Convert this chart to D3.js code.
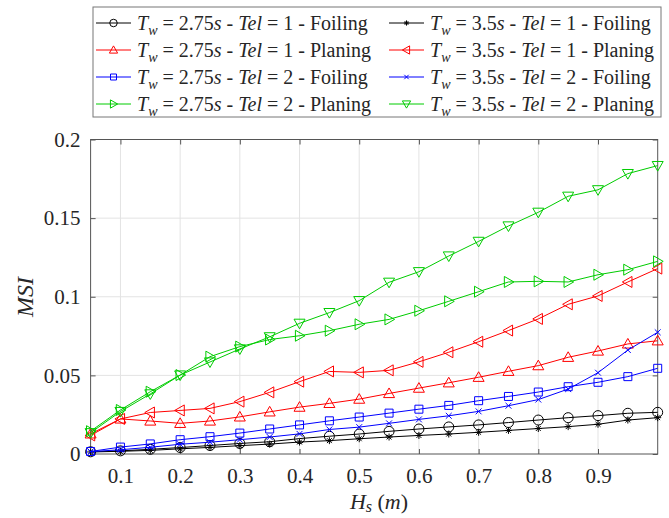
<!DOCTYPE html>
<html><head><meta charset="utf-8">
<script src="https://cdn.jsdelivr.net/npm/d3@7"></script>
<style>body{margin:0;background:#fff}svg{display:block}</style>
</head><body>
<svg id="chart" width="669" height="518"></svg>
<script>
const hs = [0.05,0.1,0.15,0.2,0.25,0.3,0.35,0.4,0.45,0.5,0.55,0.6,0.65,0.7,0.75,0.8,0.85,0.9,0.95,1.0];
const foil275tel1 = [0.0014,0.0020,0.0030,0.0041,0.0054,0.0067,0.0078,0.0098,0.0113,0.0127,0.0144,0.0159,0.0172,0.0185,0.0200,0.0216,0.0231,0.0244,0.0259,0.0265];
const foil35tel1  = [0.0013,0.0017,0.0023,0.0033,0.0042,0.0053,0.0063,0.0076,0.0085,0.0097,0.0108,0.0118,0.0127,0.0138,0.0150,0.0162,0.0174,0.0189,0.0216,0.0231];
const plan275tel1 = [0.0128,0.0223,0.0210,0.0195,0.0210,0.0236,0.0268,0.0298,0.0322,0.0349,0.0385,0.0419,0.0453,0.0488,0.0526,0.0562,0.0615,0.0655,0.0700,0.0720];
const plan35tel1  = [0.0118,0.0223,0.0264,0.0277,0.0290,0.0333,0.0392,0.0460,0.0525,0.0519,0.0532,0.0586,0.0647,0.0714,0.0785,0.0859,0.0952,0.1005,0.1094,0.1179];
const foil275tel2 = [0.0016,0.0044,0.0064,0.0091,0.0110,0.0133,0.0159,0.0185,0.0211,0.0235,0.0260,0.0285,0.0309,0.0339,0.0366,0.0394,0.0428,0.0456,0.0492,0.0545];
const foil35tel2  = [0.0015,0.0027,0.0043,0.0062,0.0075,0.0091,0.0108,0.0128,0.0156,0.0171,0.0195,0.0220,0.0243,0.0271,0.0307,0.0346,0.0413,0.0517,0.0661,0.0774];
const plan275tel2 = [0.0145,0.0280,0.0396,0.0502,0.0619,0.0683,0.0728,0.0752,0.0784,0.0825,0.0856,0.0911,0.0971,0.1032,0.1094,0.1098,0.1094,0.1140,0.1172,0.1225];
const plan35tel2  = [0.0135,0.0270,0.0382,0.0502,0.0585,0.0668,0.0745,0.0831,0.0899,0.0975,0.1092,0.1159,0.1259,0.1352,0.1450,0.1537,0.1639,0.1680,0.1783,0.1834];
const xTicks = [0.1,0.2,0.3,0.4,0.5,0.6,0.7,0.8,0.9];
const yTicks = [0,0.05,0.1,0.15,0.2];
const yTickLabels = ["0","0.05","0.1","0.15","0.2"];

const series = [
  {tw:"2.75", tel:"1", mode:"Foiling", values:foil275tel1, color:"#000000", marker:"circle"},
  {tw:"3.5",  tel:"1", mode:"Foiling", values:foil35tel1,  color:"#000000", marker:"star"},
  {tw:"2.75", tel:"1", mode:"Planing", values:plan275tel1, color:"#ff0000", marker:"triUp"},
  {tw:"3.5",  tel:"1", mode:"Planing", values:plan35tel1,  color:"#ff0000", marker:"triLeft"},
  {tw:"2.75", tel:"2", mode:"Foiling", values:foil275tel2, color:"#0000ff", marker:"square"},
  {tw:"3.5",  tel:"2", mode:"Foiling", values:foil35tel2,  color:"#0000ff", marker:"cross"},
  {tw:"2.75", tel:"2", mode:"Planing", values:plan275tel2, color:"#00cc00", marker:"triRight"},
  {tw:"3.5",  tel:"2", mode:"Planing", values:plan35tel2,  color:"#00cc00", marker:"triDown"}
];

const svg = d3.select("#chart");
const L = 90.6, R = 657.7, T = 139.5, B = 454;
const x = d3.scaleLinear().domain([0.05, 1.0]).range([L, R]);
const y = d3.scaleLinear().domain([0, 0.2]).range([B, T]);
const FONT = "Liberation Serif";

// grid
const g = svg.append("g");
g.selectAll(".gx").data(xTicks).enter().append("line")
  .attr("x1", d=>x(d)).attr("x2", d=>x(d)).attr("y1", T).attr("y2", B)
  .attr("stroke", "#e3e3e3").attr("stroke-width", 1);
g.selectAll(".gy").data(yTicks.slice(1,-1)).enter().append("line")
  .attr("y1", d=>y(d)).attr("y2", d=>y(d)).attr("x1", L).attr("x2", R)
  .attr("stroke", "#e3e3e3").attr("stroke-width", 1);

// axes with inward ticks
const axisColor = "#555";
function styleAxis(sel){
  sel.attr("font-family", null).attr("font-size", null);
  sel.select(".domain").remove();
  sel.selectAll(".tick line").attr("stroke", axisColor);
  sel.selectAll(".tick text").attr("fill", "#262626").attr("font-family", FONT).attr("font-size", 21);
}
svg.append("g").attr("transform", `translate(0,${B})`)
  .call(d3.axisBottom(x).tickValues(xTicks).tickSize(-5).tickPadding(14).tickFormat(d3.format(".1f")))
  .call(styleAxis);
svg.append("g").attr("transform", `translate(0,${T})`)
  .call(d3.axisTop(x).tickValues(xTicks).tickSize(-5).tickFormat(""))
  .call(styleAxis);
svg.append("g").attr("transform", `translate(${L},0)`)
  .call(d3.axisLeft(y).tickValues(yTicks).tickSize(-5).tickPadding(10).tickFormat((d,i)=>yTickLabels[i]))
  .call(styleAxis);
svg.append("g").attr("transform", `translate(${R},0)`)
  .call(d3.axisRight(y).tickValues(yTicks).tickSize(-5).tickFormat(""))
  .call(styleAxis);
svg.append("rect").attr("x", L).attr("y", T).attr("width", R-L).attr("height", B-T)
  .attr("fill", "none").attr("stroke", axisColor).attr("stroke-width", 1);

// markers
function markerPath(type, s){
  const h = s/2;
  switch(type){
    case "circle": return d3.symbol(d3.symbolCircle, Math.PI*h*h)();
    case "square": { const a=h*0.8; return `M${-a},${-a}H${a}V${a}H${-a}Z`; }
    case "triUp": return `M0,${-h}L${h},${h*0.75}L${-h},${h*0.75}Z`;
    case "triDown": return `M0,${h}L${h},${-h*0.75}L${-h},${-h*0.75}Z`;
    case "triLeft": return `M${-h},0L${h*0.75},${-h}L${h*0.75},${h}Z`;
    case "triRight": return `M${h},0L${-h*0.75},${-h}L${-h*0.75},${h}Z`;
    case "cross": { const a=h*0.65; return `M${-a},${-a}L${a},${a}M${-a},${a}L${a},${-a}`; }
    case "star": { const a=h*0.7, b=a*0.7; return `M${-a},0H${a}M0,${-a}V${a}M${-b},${-b}L${b},${b}M${-b},${b}L${b},${-b}`; }
  }
}
const markerSize = {circle:10, square:10, triUp:11, triDown:11, triLeft:11, triRight:11, cross:9, star:10};

const line = d3.line().x(d=>x(d[0])).y(d=>y(d[1]));
const plot = svg.append("g");
series.forEach(s=>{
  const pts = hs.map((h,i)=>[h, s.values[i]]);
  const sg = plot.append("g");
  sg.append("path").attr("d", line(pts)).attr("fill","none").attr("stroke", s.color).attr("stroke-width", 1);
  sg.selectAll("path.m").data(pts).enter().append("path").attr("class","m")
    .attr("transform", d=>`translate(${x(d[0])},${y(d[1])})`)
    .attr("d", markerPath(s.marker, markerSize[s.marker]))
    .attr("fill","none").attr("stroke", s.color).attr("stroke-width", 1);
});

// axis labels
svg.append("text").attr("x", 379).attr("y", 509).attr("text-anchor","middle")
  .attr("font-family", FONT).attr("font-size", 22).attr("fill","#262626")
  .call(t=>{
    t.append("tspan").attr("font-style","italic").text("H");
    t.append("tspan").attr("font-style","italic").attr("font-size",16).attr("dy",3).text("s");
    t.append("tspan").attr("dy",-3).text(" (");
    t.append("tspan").attr("font-style","italic").text("m");
    t.append("tspan").text(")");
  });
svg.append("text").attr("transform", "translate(33,297) rotate(-90)").attr("text-anchor","middle")
  .attr("font-family", FONT).attr("font-size", 24).attr("font-style","italic").attr("fill","#262626").text("MSI");

// legend
const lg = svg.append("g");
lg.append("rect").attr("x", 93).attr("y", 7).attr("width", 568).attr("height", 110)
  .attr("fill","#fff").attr("stroke","#777").attr("stroke-width",1);
const colX = [96, 389];
const rowY = [23, 50, 77, 104];
series.forEach((s,i)=>{
  const cx = colX[i%2], cy = rowY[Math.floor(i/2)];
  const it = lg.append("g");
  it.append("line").attr("x1", cx).attr("x2", cx+35).attr("y1", cy).attr("y2", cy).attr("stroke", s.color).attr("stroke-width",1);
  it.append("path").attr("transform",`translate(${cx+17.5},${cy})`).attr("d", markerPath(s.marker, markerSize[s.marker]*0.75))
    .attr("fill","none").attr("stroke", s.color).attr("stroke-width",1);
  const t = it.append("text").attr("x", cx+41).attr("y", cy+7).attr("font-family", FONT).attr("font-size", 20).attr("fill","#262626");
  t.append("tspan").attr("font-style","italic").text("T");
  t.append("tspan").attr("font-style","italic").attr("font-size",14).attr("dy",5).text("w");
  t.append("tspan").attr("dy",-5).text(" = " + s.tw);
  t.append("tspan").attr("font-style","italic").text("s");
  t.append("tspan").text(" - ");
  t.append("tspan").attr("font-style","italic").text("Tel");
  t.append("tspan").text(" = " + s.tel + " - " + s.mode);
});
</script>
</body></html>
